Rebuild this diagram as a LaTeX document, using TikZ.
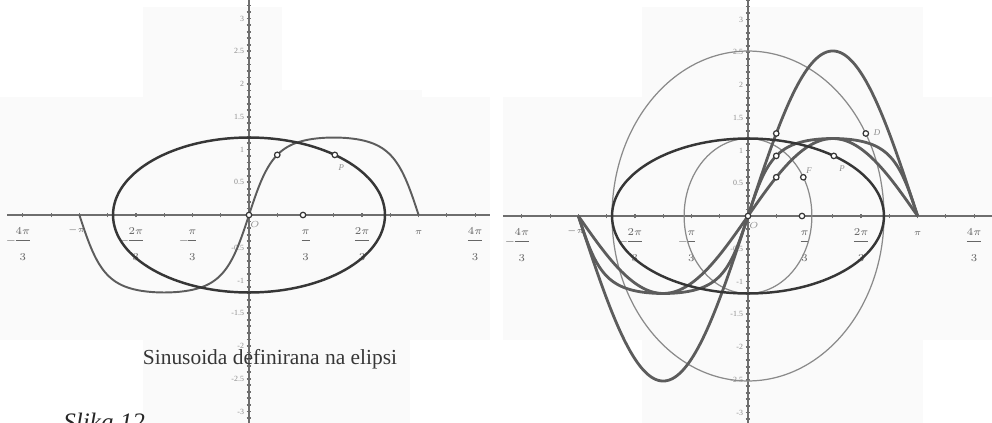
\documentclass[tikz,border=0pt]{standalone}
\usepackage{amsmath}
\usepackage{fontspec}
\setmainfont{Liberation Serif}
\definecolor{axisc}{HTML}{6E6E6E}
\definecolor{ellc}{HTML}{363636}
\definecolor{sinc}{HTML}{5C5C5C}
\definecolor{circc}{HTML}{8A8A8A}
\definecolor{bgc}{HTML}{FAFAFA}
\definecolor{labc}{HTML}{8C8C8C}
\definecolor{fracc}{HTML}{666666}
\tikzset{
  xaxis/.style={draw=axisc, line width=1.1pt},
  yaxis/.style={draw=axisc, line width=0.8pt},
  xtick/.style={draw=axisc, line width=0.7pt},
  ytick/.style={draw=axisc, line width=1.0pt},
  ylab/.style={text=labc, font=\fontsize{4.5}{5}\selectfont, anchor=east, inner sep=0.5pt},
  frlab/.style={text=fracc, font=\fontsize{6.2}{7}\selectfont, anchor=base, inner sep=0pt},
  smlab/.style={text=fracc, font=\fontsize{5}{6}\selectfont, inner sep=0pt},
  ellipsecurve/.style={draw=ellc, line width=1.4pt},
  sinthin/.style={draw=sinc, line width=1.1pt},
  sinthick/.style={draw=sinc, line width=1.6pt},
  auxcircle/.style={draw=circc, line width=0.7pt},
  ptmark/.style={circle, draw=ellc, fill=white, line width=0.7pt, inner sep=0pt, minimum size=0.11cm},
  ptlab/.style={text=labc, font=\fontsize{5}{6}\selectfont\itshape, inner sep=0pt},
}
\newcommand\myfr[2]{\dfrac{#1}{\rule{0pt}{10.5pt}#2}}
\newcommand\mneg{\llap{$-$\kern-1.5pt}}
% #1 prefix, #2 left end, #3 right end
\newcommand\graphaxes[3]{%
  \draw[xaxis] (#2,0) -- (#3,0);
  \draw[yaxis] (0,3.35) -- (0,-3.25);
  \foreach \k in {-8,...,8} \draw[xtick] ({\k*pi/6},-0.035) -- ({\k*pi/6},0.035);
  \foreach \k in {-32,...,33} \draw[ytick] (-0.045,\k/10) -- (0.045,\k/10);
  \foreach \v [count=\i] in {3,2.5,2,1.5,1,0.5,-0.5,-1,-1.5,-2,-2.5,-3}
    \node[ylab] (#1y\i) at (-0.07,\v) {\v};
  \node[frlab] (#1xa) at ({-4*pi/3},-0.43) {$\mneg\myfr{4\pi}{3}$};
  \node[frlab] (#1xb) at ({-2*pi/3},-0.43) {$\mneg\myfr{2\pi}{3}$};
  \node[frlab] (#1xc) at ({-pi/3},-0.43) {$\mneg\myfr{\pi}{3}$};
  \node[frlab] (#1xd) at ({pi/3},-0.43) {$\myfr{\pi}{3}$};
  \node[frlab] (#1xe) at ({2*pi/3},-0.43) {$\myfr{2\pi}{3}$};
  \node[frlab] (#1xf) at ({4*pi/3},-0.43) {$\myfr{4\pi}{3}$};
  \node[smlab] (#1xg) at ({-pi-0.05},-0.24) {$-\pi$};
  \node[smlab] (#1xh) at ({pi},-0.27) {$\pi$};
  \node[smlab, text=labc] (#1o) at (0.11,-0.15) {$O$};
}
\begin{document}
\begin{tikzpicture}[x=0.02cm,y=-0.02cm]
\useasboundingbox (0,0) rectangle (992,423);
\clip (0,0) rectangle (992,423);
% faint background panels
\fill[bgc] (143,7) rectangle (282,97);
\fill[bgc] (143,90) rectangle (422,340);
\fill[bgc] (0,97) rectangle (490,340);
\fill[bgc] (143,340) rectangle (410,423);
\fill[bgc] (642,7) rectangle (923,423);
\fill[bgc] (503,97) rectangle (992,340);

% ---------------- left graph ----------------
\begin{scope}[shift={(249,215)}, x=1.08cm, y=1.31cm]
  \graphaxes{L}{-4.48}{4.46}
  \draw[sinthin] plot[domain=-180:180, samples=241, variable=\t]
    ({\t*pi/180},{2.52*1.183*sin(\t)/sqrt((1.183*cos(\t))^2+(2.52*sin(\t))^2)});
  \draw[ellipsecurve] (0,0) ellipse [x radius=2.72cm, y radius=1.55cm];
  \node[ptmark] (LO) at (0,0) {};
  \node[ptmark] (LU) at (1,0) {};
  \node[ptmark] (LS) at ({pi/6},0.9178) {};
  \node[ptmark] (LP) at (1.5898,0.9178) {};
  \node[ptlab] (LPl) at (1.71,0.72) {P};
\end{scope}

% ---------------- right graph ----------------
\begin{scope}[shift={(748,216)}, x=1.08cm, y=1.31cm]
  \graphaxes{R}{-4.54}{4.52}
  \draw[auxcircle] (0,0) ellipse [x radius=2.72cm, y radius=3.30cm];
  \draw[auxcircle] (0,0) ellipse [x radius=1.278cm, y radius=1.55cm];
  \draw[sinthick] plot[domain=-180:180, samples=241, variable=\t]
    ({\t*pi/180},{2.52*sin(\t)});
  \draw[sinthick] plot[domain=-180:180, samples=241, variable=\t]
    ({\t*pi/180},{1.183*sin(\t)});
  \draw[sinthick] plot[domain=-180:180, samples=241, variable=\t]
    ({\t*pi/180},{2.52*1.183*sin(\t)/sqrt((1.183*cos(\t))^2+(2.52*sin(\t))^2)});
  \draw[ellipsecurve] (0,0) ellipse [x radius=2.72cm, y radius=1.55cm];
  \node[ptmark] (RO) at (0,0) {};
  \node[ptmark] (RU) at (1,0) {};
  \node[ptmark] (RSa) at ({pi/6},1.26) {};
  \node[ptmark] (RSe) at ({pi/6},0.9178) {};
  \node[ptmark] (RSb) at ({pi/6},0.5915) {};
  \node[ptmark] (RD) at (2.1824,1.26) {};
  \node[ptmark] (RP) at (1.5898,0.9178) {};
  \node[ptmark] (RF) at (1.0245,0.5915) {};
  \node[ptlab] (RDl) at (2.39,1.27) {D};
  \node[ptlab] (RPl) at (1.74,0.73) {P};
  \node[ptlab] (RFl) at (1.13,0.70) {F};
\end{scope}

% captions
\node[font=\fontsize{12.2}{14}\selectfont, text=ellc, anchor=base, inner sep=0pt] (cap) at (270,364) {Sinusoida definirana na elipsi};
\node[font=\fontsize{14.3}{16}\selectfont\itshape, text=black!85, anchor=base west, inner sep=0pt] (slika) at (63,430) {Slika 12};
\end{tikzpicture}
\end{document}
